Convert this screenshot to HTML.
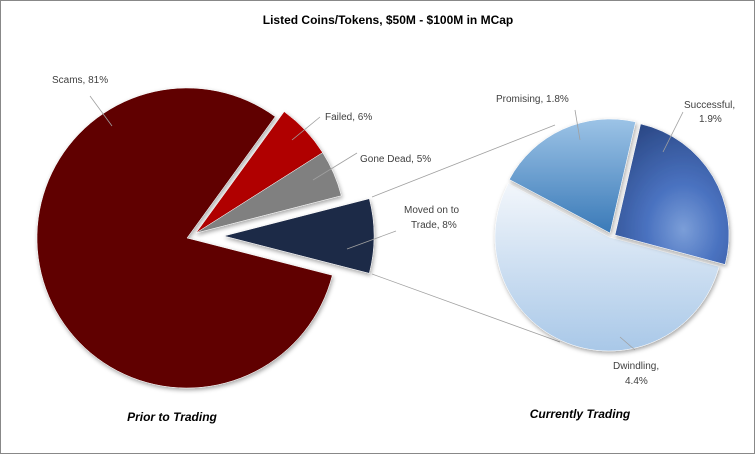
<!DOCTYPE html><html><head><style>
body{margin:0;background:#fff;}
svg{display:block;font-family:"Liberation Sans",sans-serif;}
</style></head><body>
<svg id="s" width="755" height="454" viewBox="0 0 755 454">
<defs>
<linearGradient id="gd" x1="0" y1="0" x2="0" y2="1"><stop offset="0" stop-color="#f2f6fb"/><stop offset="1" stop-color="#a9c8e8"/></linearGradient>
<linearGradient id="gp" x1="0" y1="0" x2="0" y2="1"><stop offset="0" stop-color="#9cc3e6"/><stop offset="1" stop-color="#3a7ab8"/></linearGradient>
<radialGradient id="gs" cx="0.6" cy="0.75" r="0.8"><stop offset="0" stop-color="#7b9ed8"/><stop offset="0.4" stop-color="#4a72c0"/><stop offset="1" stop-color="#2c4a88"/></radialGradient>
<filter id="sh" x="-20%" y="-20%" width="140%" height="140%"><feDropShadow dx="1" dy="2" stdDeviation="2" flood-opacity="0.35"/></filter>
</defs>
<rect x="0.5" y="0.5" width="754" height="453" fill="#fff" stroke="#888"/>
<text x="388" y="24" font-size="12" font-weight="bold" text-anchor="middle" fill="#000">Listed Coins/Tokens, $50M - $100M  in MCap</text>
<g id="g"></g>
<g font-size="10" fill="#404040">
<text x="52" y="83">Scams, 81%</text>
<text x="325" y="120">Failed, 6%</text>
<text x="360" y="162">Gone Dead, 5%</text>
<text x="404" y="213">Moved on to</text>
<text x="411" y="228">Trade, 8%</text>
<text x="496" y="102">Promising, 1.8%</text>
<text x="684" y="108">Successful,</text>
<text x="699" y="122">1.9%</text>
<text x="613" y="369">Dwindling,</text>
<text x="625" y="384">4.4%</text>
</g>
<text x="172" y="421" font-size="12" font-weight="bold" font-style="italic" text-anchor="middle">Prior to Trading</text>
<text x="580" y="418" font-size="12" font-weight="bold" font-style="italic" text-anchor="middle">Currently Trading</text>
</svg>
<script>
var g=document.getElementById('g'),ns='http://www.w3.org/2000/svg';
function P(a){return a*Math.PI/180}
function sec(cx,cy,r,a1,a2,fill,f){var x1=cx+r*Math.cos(P(a1)),y1=cy+r*Math.sin(P(a1)),x2=cx+r*Math.cos(P(a2)),y2=cy+r*Math.sin(P(a2));
var p=document.createElementNS(ns,'path');p.setAttribute('d','M'+cx+','+cy+'L'+x1+','+y1+'A'+r+','+r+' 0 '+((a2-a1)>180?1:0)+' 1 '+x2+','+y2+'Z');p.setAttribute('fill',fill);if(f)p.setAttribute('filter','url(#sh)');p.setAttribute('stroke','#fff');p.setAttribute('stroke-width','0.5');g.appendChild(p);}
function ln(a,b,c,d){var l=document.createElementNS(ns,'line');l.setAttribute('x1',a);l.setAttribute('y1',b);l.setAttribute('x2',c);l.setAttribute('y2',d);l.setAttribute('stroke','#a0a0a0');l.setAttribute('stroke-width','0.8');g.appendChild(l);}
sec(187,238,150,14.4,306,'#600000',1);
sec(196,233,150,-54,-32.4,'#b00000',1);
sec(196,233,150,-32.4,-14.4,'#808080',1);
sec(224,236,150,-14.4,14.4,'#1f2a47',1);
ln(372,197,555,125);ln(372,274,560,342);
sec(609,237,114,15,208,'url(#gd)',1);
sec(610,233,114,208,283,'url(#gp)',1);
sec(615,235,114,283,375,'url(#gs)',1);
ln(90,96,112,126);ln(320,117,292,140);ln(357,153,313,180);ln(396,231,347,249);
ln(575,110,580,140);ln(683,112,663,152);ln(635,350,620,337);
</script>
</body></html>
